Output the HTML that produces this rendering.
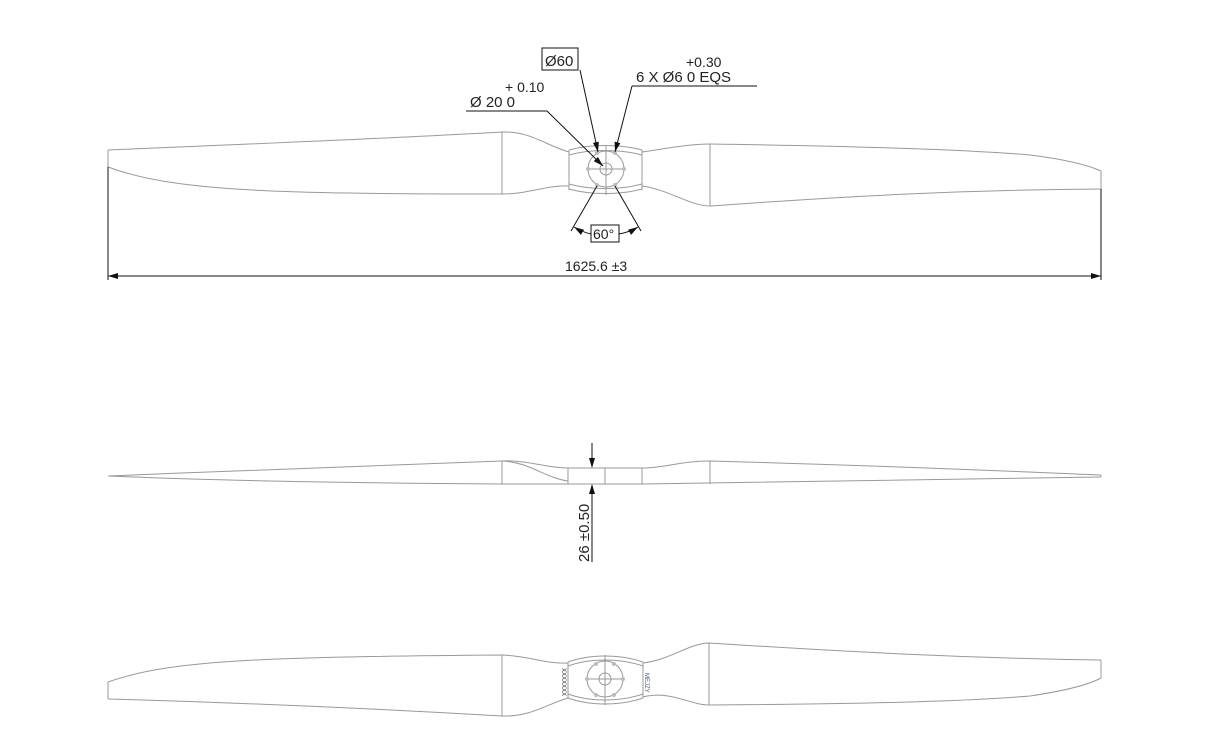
<!DOCTYPE html>
<html><head><meta charset="utf-8"><style>
html,body{margin:0;padding:0;background:#fff;}
svg{display:block;}
text{font-family:"Liberation Sans",sans-serif;fill:#222;}
</style></head><body>
<svg width="1208" height="749" viewBox="0 0 1208 749" xmlns="http://www.w3.org/2000/svg">
<defs>
<marker id="ar" markerWidth="10" markerHeight="6" refX="10" refY="3" orient="auto" markerUnits="userSpaceOnUse">
<path d="M0,0 L10,3 L0,6 Z" fill="#111"/></marker>
</defs>
<g fill="none" stroke="#999" stroke-width="1">
<path d="M108,150 C250,144 400,138 502,132 C530,131 545,145 569,152"/>
<path d="M108,167 C170,190 260,194 502,194 C530,194 545,185 569,186"/>
<line x1="108" y1="150" x2="108" y2="167"/>
<line x1="502" y1="132" x2="502" y2="194"/>
<path d="M569,150 C590,144 620,144 642,150"/>
<path d="M569,155 C590,149 620,149 642,155"/>
<path d="M569,184 C590,190 620,190 642,184"/>
<path d="M569,189 C590,195 620,195 642,189"/>
<line x1="569" y1="150" x2="569" y2="190"/>
<line x1="642" y1="150" x2="642" y2="190"/>
<path d="M642,152 C670,148 690,144 710,144 C850,146 960,149 1030,155 C1070,160 1090,166 1101,171"/>
<path d="M642,186 C670,190 690,206 710,206 C850,196 960,190 1101,189"/>
<line x1="710" y1="144" x2="710" y2="206"/>
<line x1="1101" y1="171" x2="1101" y2="189"/>
<circle cx="606" cy="169" r="18"/>
<circle cx="606" cy="169" r="6"/>
<line x1="606" y1="145" x2="606" y2="195"/>
<line x1="588" y1="169" x2="624" y2="169"/>
</g>
<g fill="#bbb">
<circle cx="597" cy="153" r="2"/><circle cx="615" cy="153" r="2"/>
<circle cx="588" cy="169" r="2"/><circle cx="624" cy="169" r="2"/>
<circle cx="597" cy="185" r="2"/><circle cx="615" cy="185" r="2"/>
</g>
<g stroke="#111" stroke-width="1" fill="none">
<line x1="108" y1="167" x2="108" y2="280"/>
<line x1="1101" y1="189" x2="1101" y2="280"/>
<line x1="108" y1="276" x2="1101" y2="276"/>
<rect x="542" y="48" width="36" height="22"/>
<line x1="580" y1="70" x2="598" y2="152" marker-end="url(#ar)"/>
<line x1="632" y1="86" x2="757" y2="86"/>
<line x1="632" y1="86" x2="615" y2="152" marker-end="url(#ar)"/>
<line x1="466" y1="111" x2="547" y2="111"/>
<line x1="547" y1="111" x2="603" y2="166" marker-end="url(#ar)"/>
<line x1="597" y1="186" x2="571" y2="231"/>
<line x1="615" y1="186" x2="641" y2="231"/>
<path d="M591,234 Q582,232 574,227" marker-end="url(#ar)"/>
<path d="M619,234 Q630,232 638,227" marker-end="url(#ar)"/>
<rect x="591" y="225" width="28" height="17"/>
</g>
<path d="M108,276 l10,-3 v6 z M1101,276 l-10,-3 v6 z" fill="#111"/>
<text x="545" y="66" font-size="15">Ø60</text>
<text x="686" y="67" font-size="14">+0.30</text>
<text x="636" y="82" font-size="15">6 X Ø6   0     EQS</text>
<text x="505" y="92" font-size="14">+ 0.10</text>
<text x="470" y="107" font-size="15">Ø 20   0</text>
<text x="593" y="239" font-size="14">60°</text>
<text x="565" y="271" font-size="14">1625.6 ±3</text>
<g fill="none" stroke="#999" stroke-width="1">
<path d="M108,476 C250,470 400,466 502,461 C530,460 545,468 568,468 L642,468 C665,468 680,461 710,461 C900,466 1000,471 1101,475"/>
<path d="M108,476 C200,480 350,483 502,484 L568,484 L642,484 L1101,477"/>
<path d="M502,461 C530,462 545,478 568,481"/>
<line x1="502" y1="461" x2="502" y2="484"/>
<line x1="568" y1="468" x2="568" y2="484"/>
<line x1="605" y1="468" x2="605" y2="484"/>
<line x1="642" y1="468" x2="642" y2="484"/>
<line x1="710" y1="461" x2="710" y2="484"/>
<line x1="1101" y1="475" x2="1101" y2="477"/>
</g>
<g stroke="#111" fill="none">
<line x1="592" y1="443" x2="592" y2="467"/>
<line x1="592" y1="485" x2="592" y2="562"/>
</g>
<path d="M592,468 l-3,-10 h6 z M592,484 l-3,10 h6 z" fill="#111"/>
<text transform="translate(589,562) rotate(-90)" font-size="15">26 ±0.50</text>
<g fill="none" stroke="#999" stroke-width="1">
<path d="M108,682 C170,660 260,657 502,655 C530,656 545,664 568,663"/>
<path d="M108,699 C250,703 400,710 502,716 C530,717 545,705 568,698"/>
<line x1="108" y1="682" x2="108" y2="699"/>
<line x1="502" y1="655" x2="502" y2="716"/>
<path d="M568,662 C590,654 620,654 643,662"/>
<path d="M568,666 C590,658 620,658 643,666"/>
<path d="M568,694 C590,702 620,702 643,694"/>
<path d="M568,698 C590,706 620,706 643,698"/>
<line x1="568" y1="662" x2="568" y2="698"/>
<line x1="643" y1="662" x2="643" y2="698"/>
<path d="M643,663 C670,660 690,643 709,643 C850,652 960,658 1101,660"/>
<path d="M643,697 C670,690 690,705 709,705 C850,704 960,702 1030,696 C1070,690 1090,684 1101,678"/>
<line x1="709" y1="643" x2="709" y2="705"/>
<line x1="1101" y1="660" x2="1101" y2="678"/>
<circle cx="605" cy="679" r="18"/>
<circle cx="605" cy="679" r="6"/>
<line x1="605" y1="655" x2="605" y2="705"/>
<line x1="587" y1="679" x2="623" y2="679"/>
</g>
<g fill="#bbb">
<circle cx="596" cy="664" r="2"/><circle cx="614" cy="664" r="2"/>
<circle cx="587" cy="679" r="2"/><circle cx="623" cy="679" r="2"/>
<circle cx="596" cy="695" r="2"/><circle cx="614" cy="695" r="2"/>
</g>
<text transform="translate(562,668) rotate(90)" font-size="6">XXXXXXX</text>
<text transform="translate(645,673) rotate(90)" font-size="6" style="fill:#357">MEJZY</text>
</svg>
</body></html>
